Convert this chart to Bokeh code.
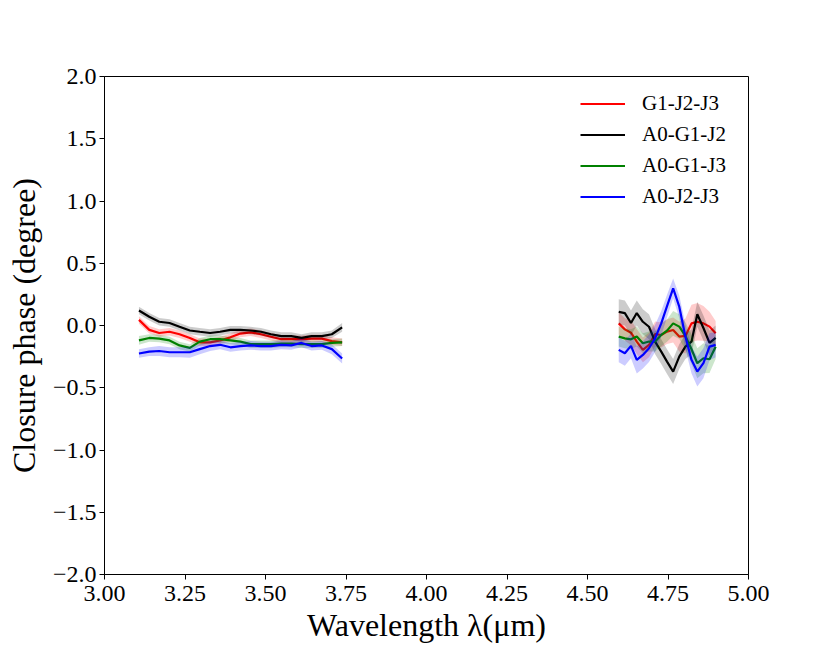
from bokeh.plotting import figure
from bokeh.models import FixedTicker, Legend, LegendItem, Range1d
from bokeh.embed import file_html
from bokeh.resources import INLINE

# ---------------- data ----------------
wl_short = [3.107, 3.139, 3.170, 3.202, 3.233, 3.265, 3.296, 3.328, 3.359, 3.391, 3.422,
            3.454, 3.486, 3.517, 3.549, 3.580, 3.612, 3.643, 3.675, 3.706, 3.738]
wl_long = [4.597, 4.616, 4.635, 4.653, 4.672, 4.691, 4.710, 4.729, 4.747, 4.766, 4.785,
           4.804, 4.823, 4.841, 4.860, 4.879, 4.898]

series_names = ["G1-J2-J3", "A0-G1-J2", "A0-G1-J3", "A0-J2-J3"]
series_colors = ["red", "black", "green", "blue"]

g1j2j3_short = [0.045, -0.035, -0.06, -0.05, -0.07, -0.10, -0.135, -0.135, -0.12, -0.095, -0.065,
                -0.055, -0.07, -0.09, -0.11, -0.11, -0.11, -0.105, -0.105, -0.125, -0.135]
a0g1j2_short = [0.12, 0.07, 0.03, 0.02, -0.01, -0.04, -0.05, -0.06, -0.05, -0.035, -0.035,
                -0.04, -0.05, -0.07, -0.085, -0.085, -0.10, -0.085, -0.085, -0.07, -0.015]
a0g1j3_short = [-0.12, -0.10, -0.105, -0.12, -0.16, -0.18, -0.13, -0.11, -0.11, -0.12, -0.13,
                -0.15, -0.15, -0.15, -0.145, -0.145, -0.15, -0.15, -0.15, -0.14, -0.135]
a0j2j3_short = [-0.225, -0.21, -0.205, -0.215, -0.215, -0.215, -0.19, -0.165, -0.155, -0.175, -0.165,
                -0.16, -0.165, -0.165, -0.155, -0.16, -0.14, -0.165, -0.16, -0.19, -0.265]

g1j2j3_short_err = [0.03, 0.03, 0.03, 0.03, 0.03, 0.03, 0.03, 0.03, 0.03, 0.03, 0.03,
                    0.03, 0.03, 0.03, 0.03, 0.03, 0.03, 0.03, 0.03, 0.03, 0.03]
a0g1j2_short_err = [0.03, 0.03, 0.03, 0.03, 0.03, 0.03, 0.03, 0.03, 0.03, 0.03, 0.03,
                    0.03, 0.03, 0.03, 0.03, 0.03, 0.03, 0.03, 0.03, 0.03, 0.035]
a0g1j3_short_err = [0.035, 0.03, 0.03, 0.03, 0.03, 0.03, 0.03, 0.03, 0.03, 0.03, 0.03,
                    0.03, 0.03, 0.03, 0.03, 0.03, 0.03, 0.03, 0.03, 0.03, 0.03]
a0j2j3_short_err = [0.035, 0.035, 0.04, 0.04, 0.04, 0.045, 0.04, 0.04, 0.035, 0.035, 0.035,
                    0.035, 0.035, 0.035, 0.035, 0.035, 0.035, 0.035, 0.035, 0.04, 0.04]

g1j2j3_long = [0.017, -0.031, -0.058, -0.129, -0.196, -0.156, -0.068, -0.076, -0.049, -0.036, -0.089,
               -0.084, 0.017, 0.030, 0.017, -0.009, -0.063]
a0g1j2_long = [0.11, 0.10, 0.02, 0.10, 0.03, -0.01, -0.13, -0.21, -0.29, -0.37, -0.25,
               -0.17, -0.13, 0.09, -0.02, -0.14, -0.10]
a0g1j3_long = [-0.089, -0.103, -0.111, -0.089, -0.143, -0.129, -0.129, -0.076, -0.041, 0.017, -0.009,
               -0.084, -0.191, -0.303, -0.263, -0.271, -0.170]
a0j2j3_long = [-0.196, -0.223, -0.164, -0.276, -0.236, -0.183, -0.103, 0.017, 0.156, 0.298, 0.151,
               -0.089, -0.276, -0.370, -0.303, -0.170, -0.156]

g1j2j3_long_err = [0.09, 0.09, 0.10, 0.10, 0.10, 0.10, 0.10, 0.10, 0.10, 0.10, 0.12,
                   0.14, 0.15, 0.15, 0.14, 0.12, 0.10]
a0g1j2_long_err = [0.10, 0.10, 0.10, 0.10, 0.10, 0.10, 0.10, 0.10, 0.10, 0.10, 0.10,
                   0.10, 0.10, 0.10, 0.10, 0.10, 0.10]
a0g1j3_long_err = [0.08, 0.08, 0.08, 0.08, 0.08, 0.08, 0.08, 0.09, 0.09, 0.10, 0.10,
                   0.11, 0.12, 0.12, 0.12, 0.11, 0.10]
a0j2j3_long_err = [0.10, 0.10, 0.10, 0.11, 0.11, 0.11, 0.11, 0.10, 0.09, 0.08, 0.09,
                   0.10, 0.11, 0.12, 0.12, 0.11, 0.10]

short_vals = [g1j2j3_short, a0g1j2_short, a0g1j3_short, a0j2j3_short]
short_errs = [g1j2j3_short_err, a0g1j2_short_err, a0g1j3_short_err, a0j2j3_short_err]
long_vals = [g1j2j3_long, a0g1j2_long, a0g1j3_long, a0j2j3_long]
long_errs = [g1j2j3_long_err, a0g1j2_long_err, a0g1j3_long_err, a0j2j3_long_err]

x_ticks = [3.0, 3.25, 3.5, 3.75, 4.0, 4.25, 4.5, 4.75, 5.0]
x_tick_labels = ["3.00", "3.25", "3.50", "3.75", "4.00", "4.25", "4.50", "4.75", "5.00"]
y_ticks = [-2.0, -1.5, -1.0, -0.5, 0.0, 0.5, 1.0, 1.5, 2.0]
y_tick_labels = ["\u22122.0", "\u22121.5", "\u22121.0", "\u22120.5", "0.0", "0.5", "1.0", "1.5", "2.0"]

FONT = "Liberation Serif"

# ---------------- figure ----------------
p = figure(width=830, height=646, output_backend="svg", toolbar_location=None,
           x_range=Range1d(3.0, 5.0), y_range=Range1d(-2.0, 2.0),
           min_border_left=104, min_border_right=82, min_border_top=76, min_border_bottom=72)

p.background_fill_color = "white"
p.border_fill_color = "white"
p.outline_line_color = "black"
p.outline_line_width = 1
p.grid.visible = False

p.xaxis.ticker = FixedTicker(ticks=x_ticks)
p.yaxis.ticker = FixedTicker(ticks=y_ticks)
p.xaxis.major_label_overrides = {t: s for t, s in zip(x_ticks, x_tick_labels)}
p.yaxis.major_label_overrides = {t: s for t, s in zip(y_ticks, y_tick_labels)}

for ax in (p.xaxis, p.yaxis):
    ax.minor_tick_line_color = None
    ax.major_tick_in = 0
    ax.major_tick_out = 5
    ax.major_tick_line_color = "black"
    ax.axis_line_color = "black"
    ax.major_label_text_font = FONT
    ax.major_label_text_font_size = "24px"
    ax.major_label_text_color = "black"
    ax.axis_label_text_font = FONT
    ax.axis_label_text_font_size = "32px"
    ax.axis_label_text_font_style = "normal"
    ax.axis_label_text_color = "black"

p.xaxis.major_label_standoff = 6
p.yaxis.major_label_standoff = 3
p.xaxis.axis_label_standoff = 3
p.yaxis.axis_label_standoff = 8
p.xaxis.axis_label = "Wavelength \u03bb(\u03bcm)"
p.yaxis.axis_label = "Closure phase (degree)"

items = []
for name, color, sv, se, lv, le in zip(series_names, series_colors, short_vals, short_errs, long_vals, long_errs):
    rends = []
    for xs, ys, es in ((wl_short, sv, se), (wl_long, lv, le)):
        lo = [y - e for y, e in zip(ys, es)]
        hi = [y + e for y, e in zip(ys, es)]
        p.varea(x=xs, y1=lo, y2=hi, fill_color=color, fill_alpha=0.2)
        r = p.line(xs, ys, line_color=color, line_width=2.2)
        rends.append(r)
    items.append(LegendItem(label=name, renderers=[rends[0]]))

legend = Legend(items=items, location=(476, 362), border_line_color=None,
                background_fill_alpha=0, padding=0, margin=0, spacing=0,
                glyph_width=45, glyph_height=31, label_height=31, label_standoff=17,
                label_text_font=FONT, label_text_font_size="21px", label_text_color="black")
p.add_layout(legend)

open("out.html", "w").write(file_html(p, INLINE))
